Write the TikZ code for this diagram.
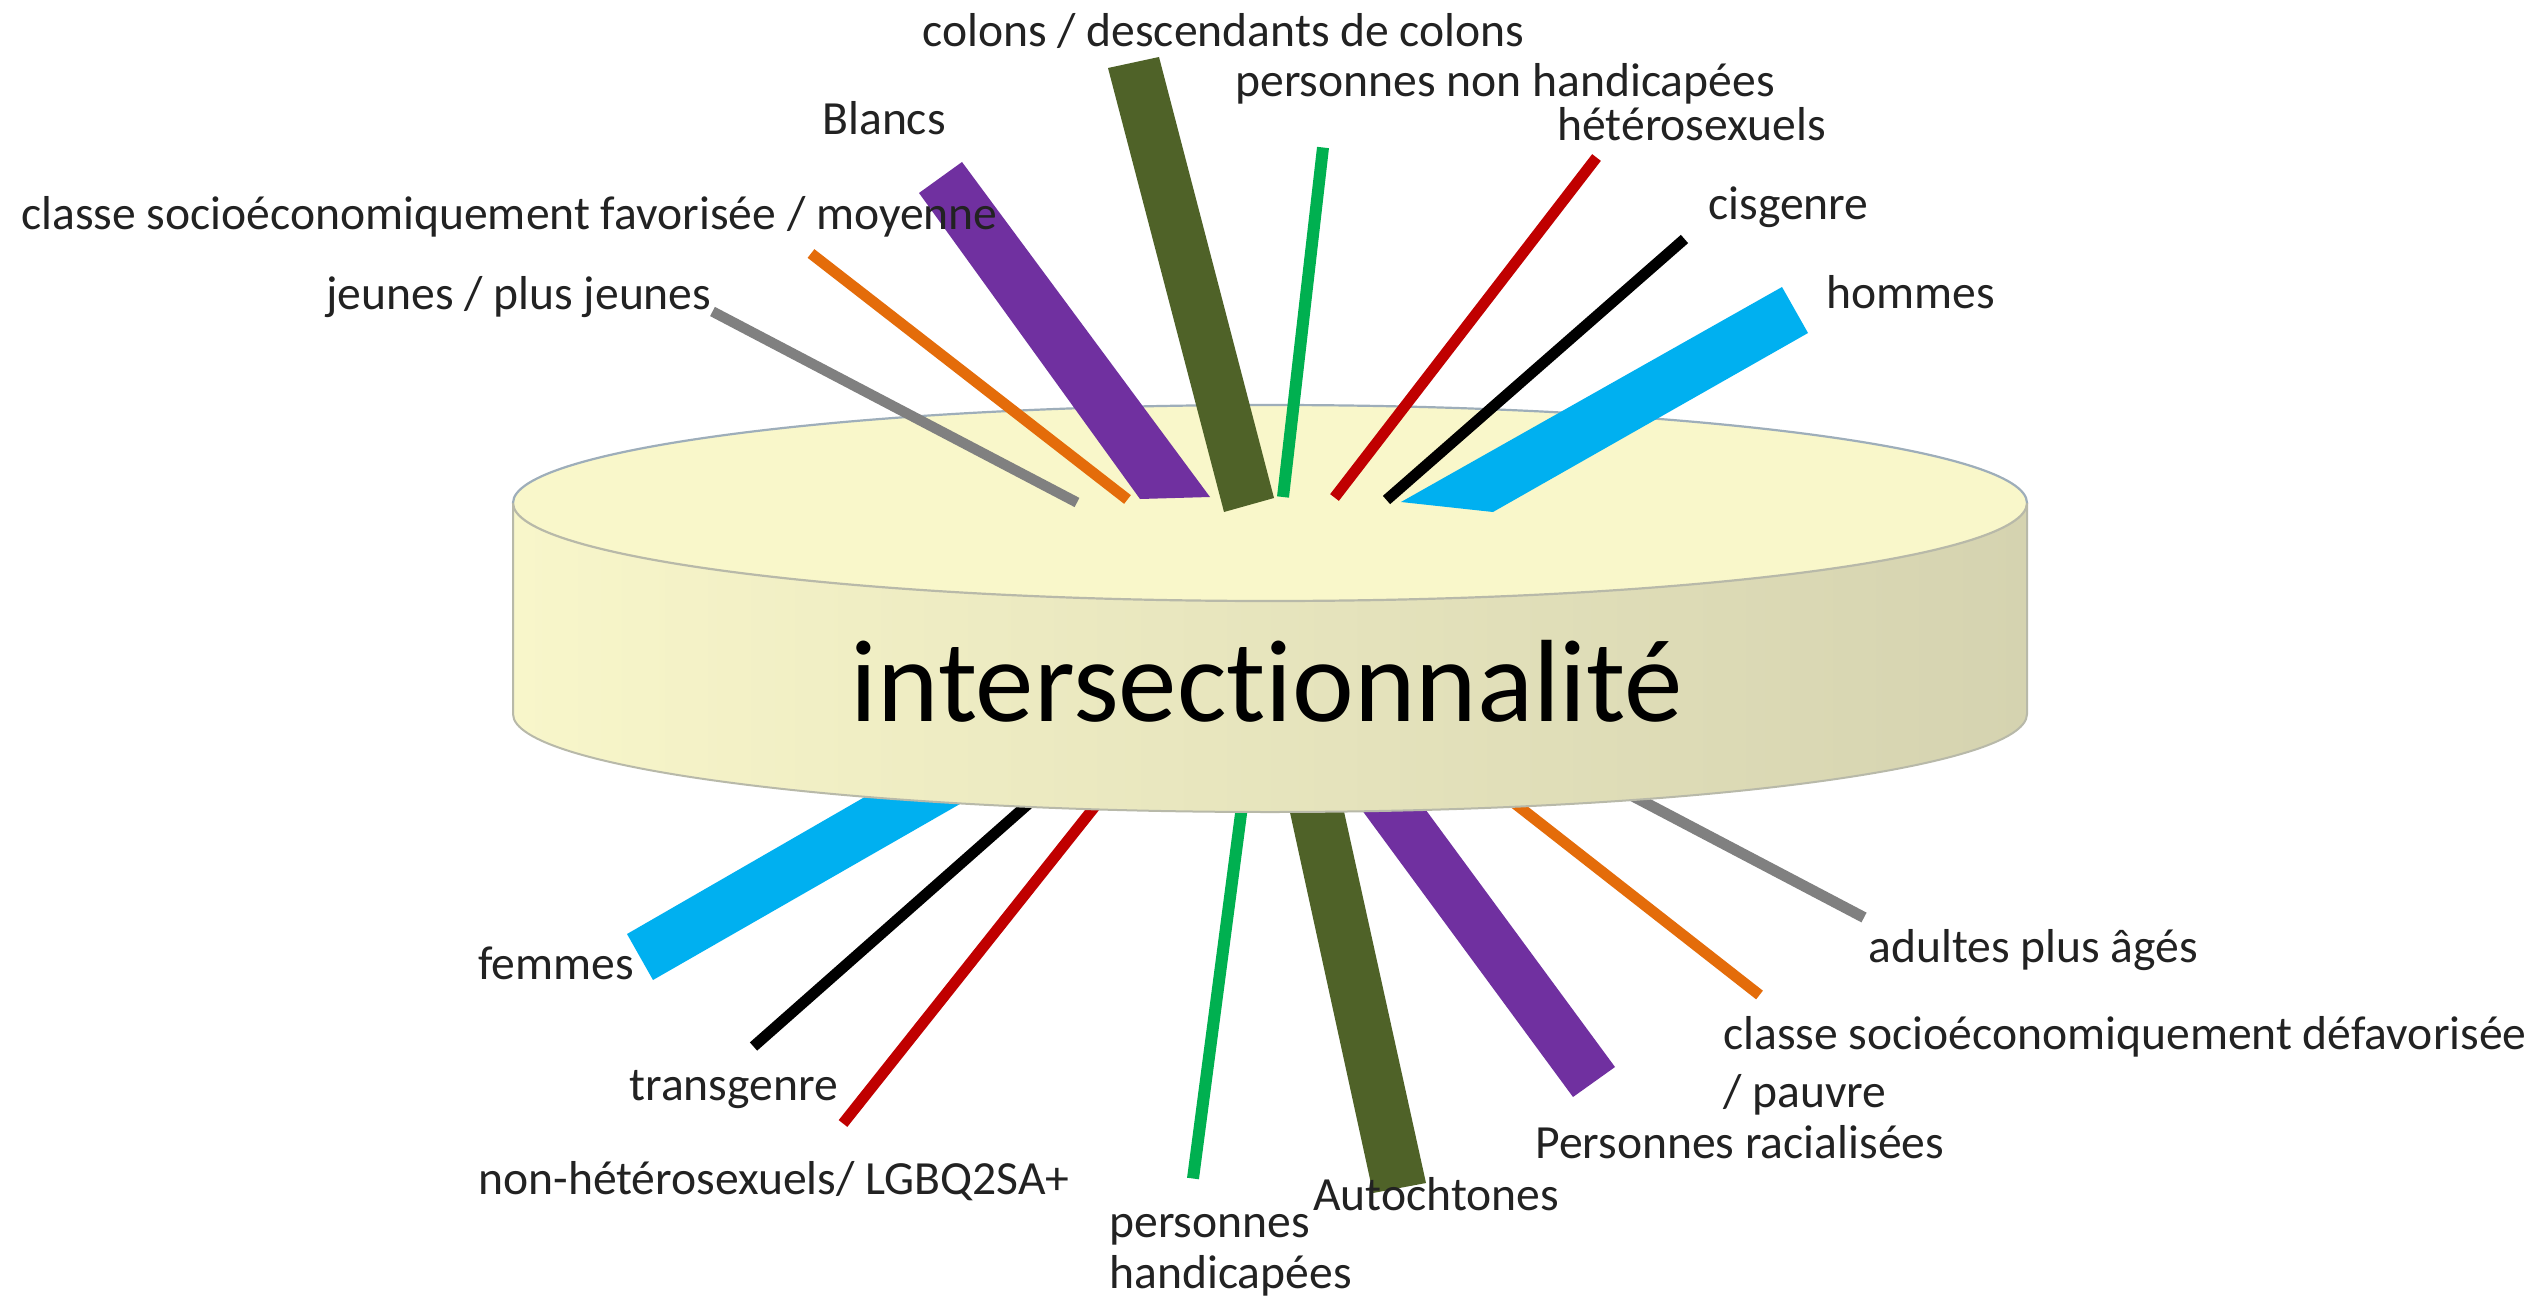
\documentclass[tikz,border=0pt]{standalone}
\usepackage{fontspec}
\setmainfont{Carlito}[Ligatures=NoCommon, Contextuals=NoAlternate]
\definecolor{cgray}{HTML}{808080}
\definecolor{corange}{HTML}{E46C0A}
\definecolor{cpurple}{HTML}{7030A0}
\definecolor{colive}{HTML}{4F6228}
\definecolor{cgreen}{HTML}{00B050}
\definecolor{cred}{HTML}{C00000}
\definecolor{ccyan}{HTML}{00B0F0}
\definecolor{txt}{HTML}{222222}
\definecolor{diskL}{HTML}{F8F6CA}
\definecolor{diskM}{HTML}{F4F2C6}
\definecolor{diskR}{HTML}{D5D3B0}
\definecolor{diskTop}{HTML}{F9F7CA}
\definecolor{rimA}{HTML}{9EAEBA}
\definecolor{rimB}{HTML}{B8B9A9}
\begin{document}
\begin{tikzpicture}[x=0.5pt,y=-0.5pt,
  lab/.style={font=\fontsize{23.8pt}{28pt}\selectfont, text=txt, inner sep=0pt, anchor=base west},
  thin/.style={line width=5.5pt},
  thick/.style={draw=none}]
\useasboundingbox (0,0) rectangle (2547,1305);
\fill[white] (0,0) rectangle (2547,1305);

% ---- bars below the disk (drawn first, partly hidden)
\fill[ccyan] (627,934) -- (981,730) -- (1089,730) -- (653,980) -- cycle;
\draw[thin, black] (753.5,1046.5) -- (1112,730);
\draw[thin, cred] (843,1123.5) -- (1155.6,730);
\draw[line width=6pt, cgreen] (1193,1178.5) -- (1252,730);
\fill[colive] (1373,1193) -- (1272,730) -- (1326,730) -- (1426,1183) -- cycle;
\fill[cpurple] (1573,1097) -- (1303,730) -- (1367,730) -- (1615,1067) -- cycle;
\draw[thin, corange] (1759.5,995) -- (1421,730);
\draw[thin, cgray] (1864,917.5) -- (1507,730);

% ---- disk
\path[left color=diskL, middle color=diskM, right color=diskR]
  (513,503) -- (513,714) .. controls (513,768) and (852,812) .. (1270,812)
  .. controls (1688,812) and (2027,768) .. (2027,714) -- (2027,503) -- cycle;
\draw[rimB, line width=1pt] (513,503) -- (513,714) .. controls (513,768) and (852,812) .. (1270,812)
  .. controls (1688,812) and (2027,768) .. (2027,714) -- (2027,503);
\fill[diskTop] (1270,503) ellipse [x radius=378.5pt, y radius=49pt];
\draw[rimB, line width=1.1pt] (513,503) .. controls (513,557) and (852,601) .. (1270,601)
  .. controls (1688,601) and (2027,557) .. (2027,503);
\draw[rimA, line width=1.1pt] (2027,503) .. controls (2027,449) and (1688,405) .. (1270,405)
  .. controls (852,405) and (513,449) .. (513,503);

\node[font=\fontsize{58.5pt}{63pt}\selectfont, text=black, inner sep=0pt, anchor=base] (title) at (1267,721) {intersect\kern0pt ionnalité};

% ---- bars above the disk
\draw[line width=5.2pt, cgray] (712.5,311.5) -- (1077,502.5);
\draw[thin, corange] (811,253.5) -- (1127.5,499.5);
\fill[cpurple] (962,162) -- (1210,497) -- (1140,499) -- (919,193) -- cycle;
\fill[colive] (1108,68) -- (1159,57) -- (1274,498) -- (1224,512) -- cycle;
\draw[line width=6pt, cgreen] (1323,147.5) -- (1283,497);
\draw[thin, cred] (1596.5,157.5) -- (1334.5,497.5);
\draw[thin, black] (1684.5,239) -- (1386.5,500);
\fill[ccyan] (1782,287) -- (1808,333) -- (1493,512) -- (1401,502) -- cycle;

% ---- labels
\node[lab] (colons) at (922,47) {colons / descendants de colons};
\node[lab] (nonhand) at (1235,97) {personnes non handicapées};
\node[lab] (hetero) at (1557,141) {hétérosexuels};
\node[lab] (blancs) at (822,135) {Blancs};
\node[lab] (favor) at (21,230) {classe socioéconomiquement favorisée / moyenne};
\node[lab] (cis) at (1708,220) {cisgenre};
\node[lab] (hommes) at (1826,308) {hommes};
\node[lab] (jeunes) at (326,309) {jeunes / plus jeunes};
\node[lab] (ages) at (1868,962) {adultes plus âgés};
\node[lab] (femmes) at (478,979) {femmes};
\node[lab] (defav1) at (1723,1049) {classe socioéconomiquement défavorisée};
\node[lab] (defav2) at (1723,1107) {/ pauvre};
\node[lab] (trans) at (629,1100) {transgenre};
\node[lab] (racial) at (1535,1158) {Personnes racialisées};
\node[lab] (lgbq) at (478,1194) {non-hétérosexuels/ LGBQ2SA+};
\node[lab] (autoch) at (1313,1210) {Autochtones};
\node[lab] (hand1) at (1109,1237) {personnes};
\node[lab] (hand2) at (1109,1288) {handicapées};
\end{tikzpicture}
\end{document}
